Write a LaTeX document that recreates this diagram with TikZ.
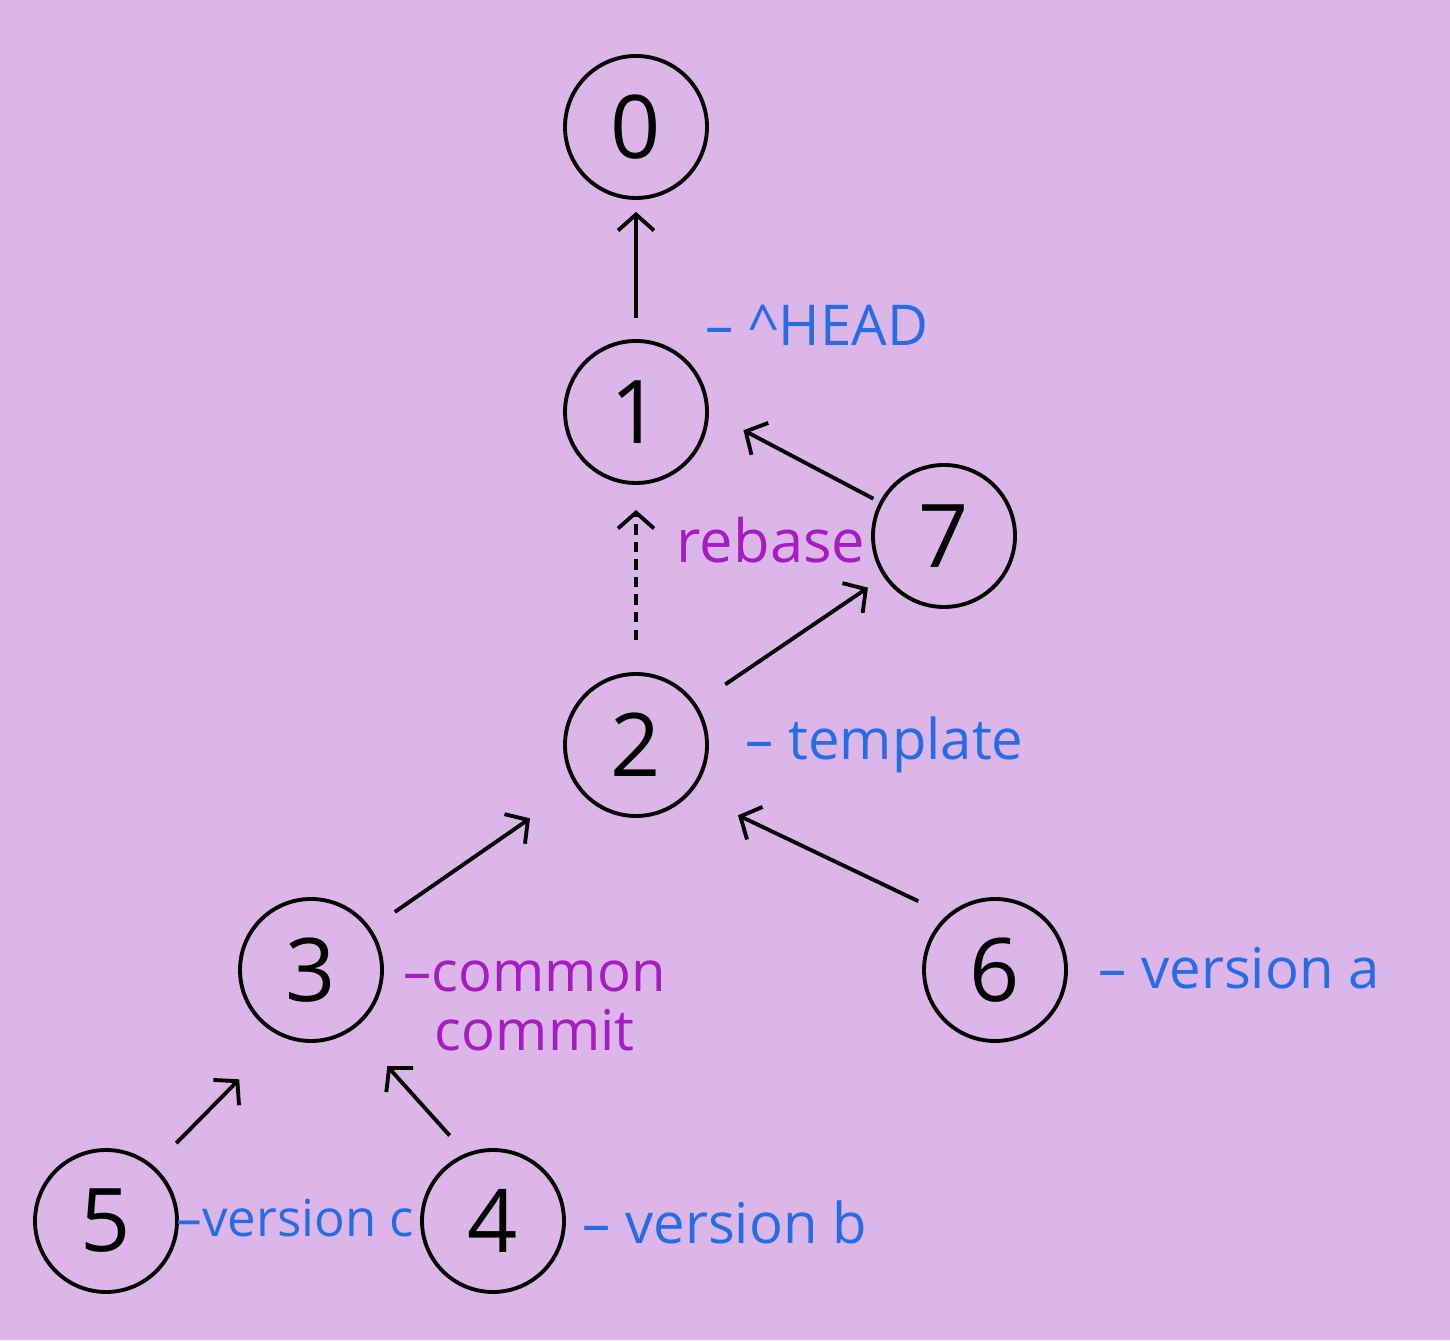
\documentclass[tikz,border=0pt]{standalone}
\usepackage{fontspec}
\setmainfont{Open Sans}
\usetikzlibrary{arrows.meta}
\definecolor{BgLilac}{RGB}{220,182,232}
\definecolor{TagBlue}{RGB}{38,108,230}
\definecolor{NotePurple}{RGB}{165,28,195}
\tikzset{
  commit/.style={
    draw,
    circle,
    minimum size=14.2mm,
    inner sep=0pt,
    line width=1.1pt,
    font=\fontsize{25}{28}\selectfont
  },
  link/.style={-{Straight Barb[length=1.6mm,width=3.6mm]},line width=1.1pt},
  rebased/.style={link,densely dashed},
  tag/.style={anchor=west,inner sep=0pt,text=TagBlue,font=\fontsize{16}{17}\selectfont},
  note/.style={inner sep=0pt,text=NotePurple,font=\fontsize{16}{17}\selectfont}
}
\begin{document}
\begin{tikzpicture}[x=1cm,y=1cm]
\fill[BgLilac] (0,0) rectangle (14.50,13.40);
\useasboundingbox (0,0) rectangle (14.50,13.40);

% commits
\node[commit] (c0) at (6.36,12.13) {0};
\node[commit] (c1) at (6.36,9.28) {1};
\node[commit] (c7) at (9.44,8.04) {7};
\node[commit] (c2) at (6.36,5.95) {2};
\node[commit] (c3) at (3.11,3.70) {3};
\node[commit] (c6) at (9.95,3.70) {6};
\node[commit] (c5) at (1.06,1.19) {5};
\node[commit] (c4) at (4.93,1.19) {4};

% parent links
\draw[link,shorten <=0.21cm,shorten >=0.12cm] (c1) -- (c0);
\draw[rebased,shorten <=0.32cm,shorten >=0.25cm] (c2) -- (c1);
\draw[link,shorten <=0.07cm,shorten >=0.39cm] (c7) -- (c1.east);
\draw[link,shorten <=0.35cm,shorten >=0.19cm] (c2) -- (c7);
\draw[link,shorten <=0.29cm,shorten >=0.56cm] (c3) -- (c2);
\draw[link,shorten <=0.32cm,shorten >=0.52cm] (c6.131) -- (c2.-41);
\draw[link,shorten <=0.32cm,shorten >=0.60cm] (c5.49) -- (c3.-114);
\draw[link,shorten <=0.24cm,shorten >=0.50cm] (c4.112) -- (c3.-54);

% labels
\node[tag] (lhead) at (7.05,10.15) {– \textasciicircum HEAD};
\node[note,font=\fontsize{17}{18}\selectfont] (lrebase) at (7.71,8.00) {rebase};
\node[tag] (ltemplate) at (7.45,5.95) {– template};
\node[note,anchor=west,align=center] (lcommon) at (4.03,3.34) {–common\\commit};
\node[tag] (lversa) at (10.98,3.72) {– version a};
\node[tag,font=\fontsize{14.5}{16}\selectfont] (lversc) at (1.76,1.22) {–version c};
\node[tag] (lversb) at (5.82,1.18) {– version b};

\end{tikzpicture}
\end{document}
